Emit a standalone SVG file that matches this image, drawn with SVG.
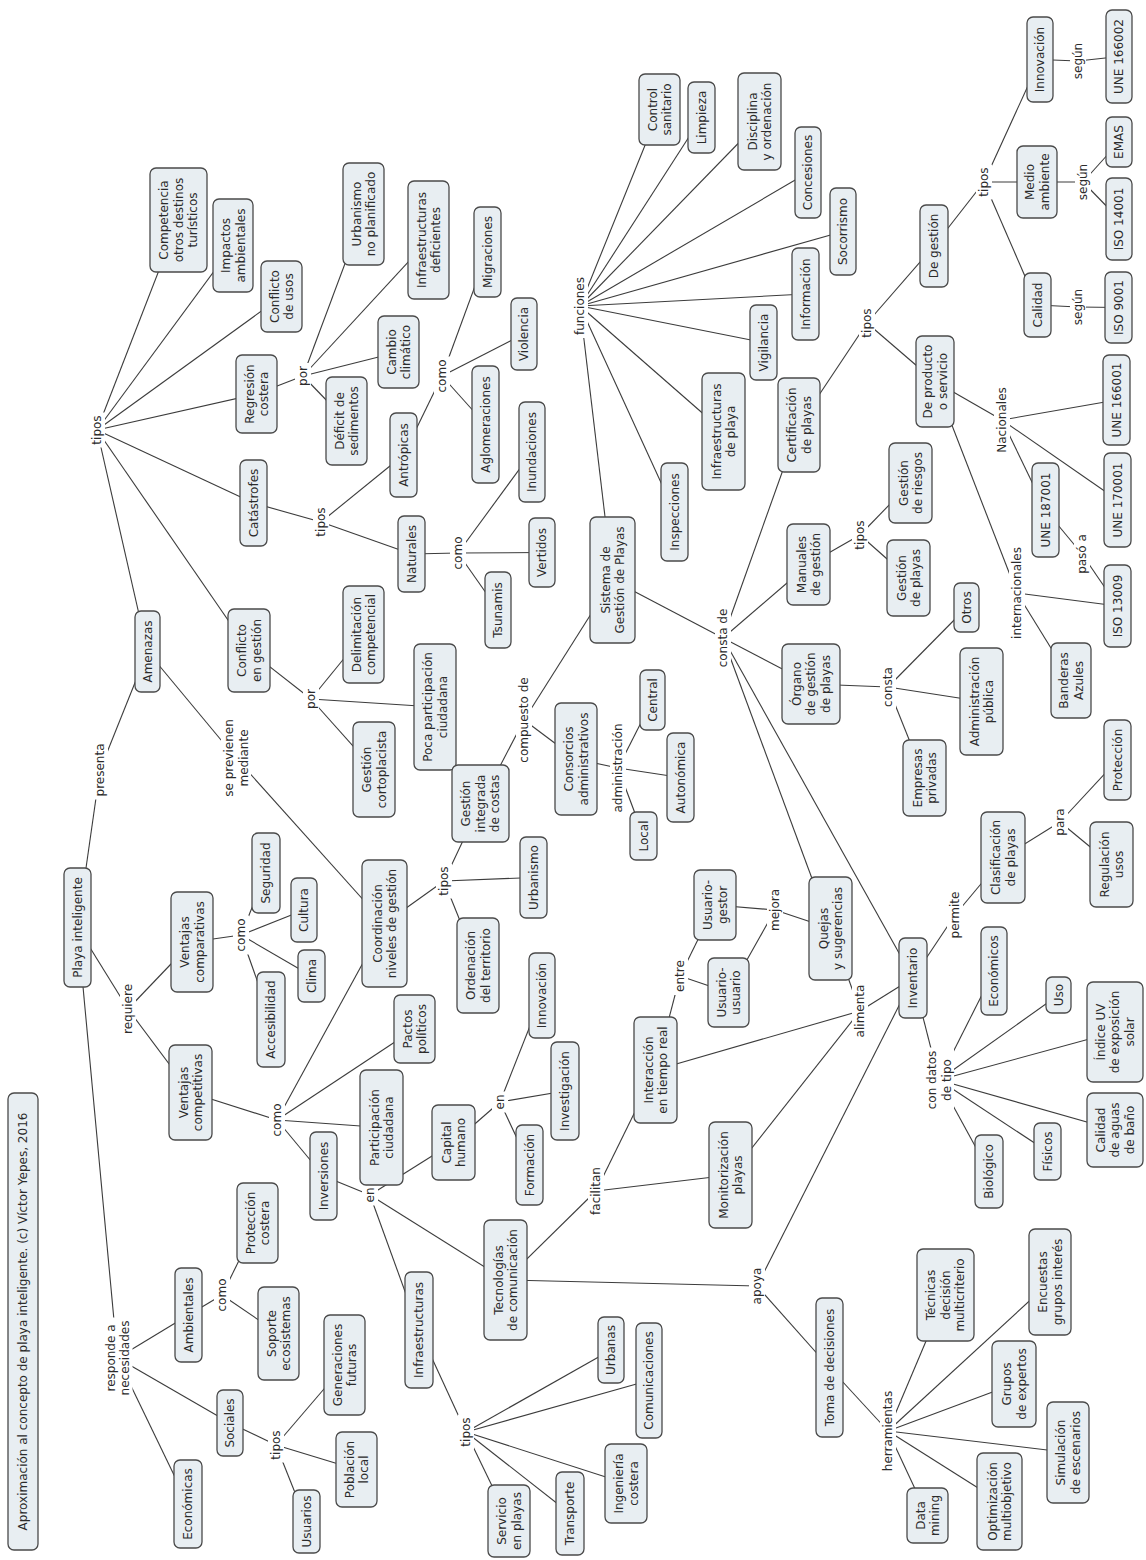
<svg xmlns="http://www.w3.org/2000/svg" width="1146" height="1560" viewBox="0 0 1146 1560">
<style>
.n rect{fill:#e8eef2;stroke:#4a4a4a;stroke-width:1.3}
.t{font-family:"DejaVu Sans",Verdana,sans-serif;font-size:12px;fill:#2b2b2b;text-anchor:middle}
#connectors line{stroke:#3c3c3c;stroke-width:1.1}
.lb rect{fill:#ffffff}
</style>
<rect x="0" y="0" width="1146" height="1560" fill="#ffffff"/>
<g id="connectors">
<line x1="77.5" y1="927.5" x2="100" y2="770"/>
<line x1="100" y1="770" x2="147.5" y2="651.5"/>
<line x1="77.5" y1="927.5" x2="128" y2="1009"/>
<line x1="128" y1="1009" x2="192" y2="942"/>
<line x1="128" y1="1009" x2="190.5" y2="1092.5"/>
<line x1="77.5" y1="927.5" x2="117.5" y2="1358"/>
<line x1="117.5" y1="1358" x2="188.5" y2="1315"/>
<line x1="117.5" y1="1358" x2="230" y2="1423"/>
<line x1="117.5" y1="1358" x2="188" y2="1504"/>
<line x1="188.5" y1="1315" x2="222" y2="1295"/>
<line x1="222" y1="1295" x2="257.5" y2="1223"/>
<line x1="222" y1="1295" x2="278.5" y2="1333.5"/>
<line x1="230" y1="1423" x2="276" y2="1445"/>
<line x1="276" y1="1445" x2="344.5" y2="1365"/>
<line x1="276" y1="1445" x2="356.5" y2="1469.5"/>
<line x1="276" y1="1445" x2="306.5" y2="1521.5"/>
<line x1="192" y1="942" x2="241" y2="935"/>
<line x1="241" y1="935" x2="266" y2="873"/>
<line x1="241" y1="935" x2="304" y2="910"/>
<line x1="241" y1="935" x2="311.5" y2="976"/>
<line x1="241" y1="935" x2="271" y2="1019.5"/>
<line x1="190.5" y1="1092.5" x2="277" y2="1120"/>
<line x1="277" y1="1120" x2="384.5" y2="923.5"/>
<line x1="277" y1="1120" x2="414.5" y2="1029"/>
<line x1="277" y1="1120" x2="381.5" y2="1127.5"/>
<line x1="277" y1="1120" x2="323.5" y2="1176"/>
<line x1="147.5" y1="651.5" x2="236" y2="758"/>
<line x1="236" y1="758" x2="384.5" y2="923.5"/>
<line x1="147.5" y1="651.5" x2="97" y2="430"/>
<line x1="97" y1="430" x2="178.5" y2="220"/>
<line x1="97" y1="430" x2="233" y2="245.5"/>
<line x1="97" y1="430" x2="281.5" y2="296.5"/>
<line x1="97" y1="430" x2="256.5" y2="394"/>
<line x1="97" y1="430" x2="253.5" y2="503"/>
<line x1="97" y1="430" x2="249" y2="650.5"/>
<line x1="256.5" y1="394" x2="303" y2="376"/>
<line x1="303" y1="376" x2="363.5" y2="214"/>
<line x1="303" y1="376" x2="428.5" y2="240"/>
<line x1="303" y1="376" x2="398.5" y2="352"/>
<line x1="303" y1="376" x2="346.5" y2="421"/>
<line x1="253.5" y1="503" x2="321" y2="522"/>
<line x1="321" y1="522" x2="403.5" y2="455"/>
<line x1="321" y1="522" x2="411.5" y2="554"/>
<line x1="403.5" y1="455" x2="442" y2="376"/>
<line x1="442" y1="376" x2="487.5" y2="252"/>
<line x1="442" y1="376" x2="524" y2="334"/>
<line x1="442" y1="376" x2="485.5" y2="424.5"/>
<line x1="411.5" y1="554" x2="458" y2="553"/>
<line x1="458" y1="553" x2="532" y2="452"/>
<line x1="458" y1="553" x2="542" y2="552.5"/>
<line x1="458" y1="553" x2="498" y2="610"/>
<line x1="249" y1="650.5" x2="311" y2="699"/>
<line x1="311" y1="699" x2="363.5" y2="634.5"/>
<line x1="311" y1="699" x2="435" y2="707"/>
<line x1="311" y1="699" x2="374" y2="769.5"/>
<line x1="384.5" y1="923.5" x2="444" y2="881"/>
<line x1="444" y1="881" x2="480.5" y2="803.5"/>
<line x1="444" y1="881" x2="533.5" y2="877.5"/>
<line x1="444" y1="881" x2="478" y2="965.5"/>
<line x1="480.5" y1="803.5" x2="524" y2="720"/>
<line x1="524" y1="720" x2="612.5" y2="580"/>
<line x1="524" y1="720" x2="576" y2="759"/>
<line x1="576" y1="759" x2="618" y2="768"/>
<line x1="618" y1="768" x2="652.5" y2="700"/>
<line x1="618" y1="768" x2="680.5" y2="777.5"/>
<line x1="618" y1="768" x2="643.5" y2="836"/>
<line x1="612.5" y1="580" x2="580" y2="306"/>
<line x1="580" y1="306" x2="659.5" y2="109.5"/>
<line x1="580" y1="306" x2="701.5" y2="117.5"/>
<line x1="580" y1="306" x2="759.5" y2="121.5"/>
<line x1="580" y1="306" x2="808" y2="172.5"/>
<line x1="580" y1="306" x2="843" y2="231.5"/>
<line x1="580" y1="306" x2="805.5" y2="294"/>
<line x1="580" y1="306" x2="763.5" y2="342.5"/>
<line x1="580" y1="306" x2="723.5" y2="431.5"/>
<line x1="580" y1="306" x2="674.5" y2="512"/>
<line x1="612.5" y1="580" x2="723" y2="638"/>
<line x1="723" y1="638" x2="799" y2="425"/>
<line x1="723" y1="638" x2="808.5" y2="564.5"/>
<line x1="723" y1="638" x2="811" y2="684"/>
<line x1="723" y1="638" x2="830.5" y2="928.5"/>
<line x1="723" y1="638" x2="913" y2="978"/>
<line x1="799" y1="425" x2="867" y2="323"/>
<line x1="867" y1="323" x2="934" y2="246"/>
<line x1="867" y1="323" x2="935" y2="381.5"/>
<line x1="934" y1="246" x2="984" y2="182"/>
<line x1="984" y1="182" x2="1040" y2="59.5"/>
<line x1="984" y1="182" x2="1037" y2="182"/>
<line x1="984" y1="182" x2="1037.5" y2="305"/>
<line x1="1040" y1="59.5" x2="1078" y2="61"/>
<line x1="1078" y1="61" x2="1119" y2="56.5"/>
<line x1="1037" y1="182" x2="1083" y2="182"/>
<line x1="1083" y1="182" x2="1119" y2="142"/>
<line x1="1083" y1="182" x2="1119" y2="219"/>
<line x1="1037.5" y1="305" x2="1078" y2="307"/>
<line x1="1078" y1="307" x2="1118.5" y2="307.5"/>
<line x1="935" y1="381.5" x2="1002" y2="420"/>
<line x1="1002" y1="420" x2="1116.5" y2="400"/>
<line x1="1002" y1="420" x2="1117.5" y2="500"/>
<line x1="1002" y1="420" x2="1045.5" y2="510"/>
<line x1="935" y1="381.5" x2="1017" y2="593"/>
<line x1="1017" y1="593" x2="1117.5" y2="606"/>
<line x1="1017" y1="593" x2="1071" y2="680.5"/>
<line x1="1045.5" y1="510" x2="1082" y2="554"/>
<line x1="1082" y1="554" x2="1117.5" y2="606"/>
<line x1="808.5" y1="564.5" x2="860" y2="535"/>
<line x1="860" y1="535" x2="910.5" y2="483"/>
<line x1="860" y1="535" x2="908.5" y2="578"/>
<line x1="811" y1="684" x2="888" y2="687"/>
<line x1="888" y1="687" x2="966.5" y2="607.5"/>
<line x1="888" y1="687" x2="981.5" y2="701.5"/>
<line x1="888" y1="687" x2="924.5" y2="778"/>
<line x1="913" y1="978" x2="955" y2="915"/>
<line x1="955" y1="915" x2="1003" y2="857.5"/>
<line x1="1003" y1="857.5" x2="1060" y2="822"/>
<line x1="1060" y1="822" x2="1111.5" y2="864.5"/>
<line x1="1060" y1="822" x2="1117.5" y2="760"/>
<line x1="913" y1="978" x2="939" y2="1080"/>
<line x1="939" y1="1080" x2="994" y2="971"/>
<line x1="939" y1="1080" x2="1058.5" y2="995"/>
<line x1="939" y1="1080" x2="1115" y2="1032"/>
<line x1="939" y1="1080" x2="1115" y2="1130"/>
<line x1="939" y1="1080" x2="1047.5" y2="1151.5"/>
<line x1="939" y1="1080" x2="989" y2="1171.5"/>
<line x1="830.5" y1="928.5" x2="775" y2="910"/>
<line x1="775" y1="910" x2="715" y2="905"/>
<line x1="775" y1="910" x2="728.5" y2="992.5"/>
<line x1="655.5" y1="1070" x2="680" y2="976"/>
<line x1="680" y1="976" x2="715" y2="905"/>
<line x1="680" y1="976" x2="728.5" y2="992.5"/>
<line x1="655.5" y1="1070" x2="860" y2="1011"/>
<line x1="730.5" y1="1175" x2="860" y2="1011"/>
<line x1="830.5" y1="928.5" x2="860" y2="1011"/>
<line x1="860" y1="1011" x2="913" y2="978"/>
<line x1="505.5" y1="1280" x2="596" y2="1191"/>
<line x1="596" y1="1191" x2="655.5" y2="1070"/>
<line x1="596" y1="1191" x2="730.5" y2="1175"/>
<line x1="505.5" y1="1280" x2="757" y2="1286"/>
<line x1="913" y1="978" x2="757" y2="1286"/>
<line x1="757" y1="1286" x2="829.5" y2="1367.5"/>
<line x1="829.5" y1="1367.5" x2="888" y2="1431"/>
<line x1="888" y1="1431" x2="945.5" y2="1295"/>
<line x1="888" y1="1431" x2="1050" y2="1282"/>
<line x1="888" y1="1431" x2="1014" y2="1384"/>
<line x1="888" y1="1431" x2="1068" y2="1452.5"/>
<line x1="888" y1="1431" x2="999.5" y2="1501.5"/>
<line x1="888" y1="1431" x2="927.5" y2="1515.5"/>
<line x1="323.5" y1="1176" x2="370" y2="1195"/>
<line x1="370" y1="1195" x2="453.5" y2="1142.5"/>
<line x1="370" y1="1195" x2="505.5" y2="1280"/>
<line x1="370" y1="1195" x2="419" y2="1330"/>
<line x1="453.5" y1="1142.5" x2="500" y2="1102"/>
<line x1="500" y1="1102" x2="542" y2="995.5"/>
<line x1="500" y1="1102" x2="565" y2="1091"/>
<line x1="500" y1="1102" x2="529.5" y2="1165"/>
<line x1="419" y1="1330" x2="466" y2="1432"/>
<line x1="466" y1="1432" x2="611" y2="1350"/>
<line x1="466" y1="1432" x2="649" y2="1380.5"/>
<line x1="466" y1="1432" x2="626" y2="1483.5"/>
<line x1="466" y1="1432" x2="570" y2="1513.5"/>
<line x1="466" y1="1432" x2="509" y2="1521"/>
</g>
<g id="label-backgrounds" class="lb">
<rect x="92" y="740.5" width="16" height="59"/>
<rect x="120" y="980.5" width="16" height="57"/>
<rect x="102.5" y="1317.5" width="30" height="81"/>
<rect x="214" y="1275.5" width="16" height="39"/>
<rect x="268" y="1427.5" width="16" height="35"/>
<rect x="233" y="915.5" width="16" height="39"/>
<rect x="269" y="1100.5" width="16" height="39"/>
<rect x="221" y="716" width="30" height="84"/>
<rect x="89" y="412.5" width="16" height="35"/>
<rect x="295" y="363" width="16" height="26"/>
<rect x="313" y="504.5" width="16" height="35"/>
<rect x="434" y="356.5" width="16" height="39"/>
<rect x="450" y="533.5" width="16" height="39"/>
<rect x="303" y="686" width="16" height="26"/>
<rect x="516" y="674.5" width="16" height="91"/>
<rect x="610" y="720.5" width="16" height="95"/>
<rect x="572" y="274" width="16" height="64"/>
<rect x="715" y="605.5" width="16" height="65"/>
<rect x="436" y="863.5" width="16" height="35"/>
<rect x="362" y="1184.5" width="16" height="21"/>
<rect x="492" y="1091.5" width="16" height="21"/>
<rect x="672" y="957" width="16" height="38"/>
<rect x="767" y="886" width="16" height="48"/>
<rect x="852" y="981.5" width="16" height="59"/>
<rect x="588" y="1164" width="16" height="54"/>
<rect x="749" y="1264.5" width="16" height="43"/>
<rect x="458" y="1414.5" width="16" height="35"/>
<rect x="880" y="1387.5" width="16" height="87"/>
<rect x="947" y="888" width="16" height="54"/>
<rect x="1052" y="805.5" width="16" height="33"/>
<rect x="924" y="1047.5" width="30" height="65"/>
<rect x="859" y="305.5" width="16" height="35"/>
<rect x="976" y="164.5" width="16" height="35"/>
<rect x="1070" y="40" width="16" height="42"/>
<rect x="1075" y="161" width="16" height="42"/>
<rect x="1070" y="286" width="16" height="42"/>
<rect x="994" y="384" width="16" height="72"/>
<rect x="1009" y="544" width="16" height="98"/>
<rect x="1074" y="531" width="16" height="46"/>
<rect x="852" y="517.5" width="16" height="35"/>
<rect x="880" y="664" width="16" height="46"/>
</g>
<g id="n_title" class="n"><rect x="8" y="1093" width="30" height="457" rx="6"/><text class="t" transform="translate(23 1321.5) rotate(-90)"><tspan x="0" y="4.3">Aproximación al concepto de playa inteligente. (c) Víctor Yepes, 2016</tspan></text></g>
<g id="n_playa" class="n"><rect x="64" y="868" width="27" height="119" rx="6"/><text class="t" transform="translate(77.5 927.5) rotate(-90)"><tspan x="0" y="4.3">Playa inteligente</tspan></text></g>
<g id="n_amenazas" class="n"><rect x="135" y="611" width="25" height="81" rx="6"/><text class="t" transform="translate(147.5 651.5) rotate(-90)"><tspan x="0" y="4.3">Amenazas</tspan></text></g>
<g id="n_competencia" class="n"><rect x="150" y="168" width="57" height="104" rx="6"/><text class="t" transform="translate(178.5 220) rotate(-90)"><tspan x="0" y="-10.2">Competencia</tspan><tspan x="0" y="4.3">otros destinos</tspan><tspan x="0" y="18.8">turísticos</tspan></text></g>
<g id="n_impactos" class="n"><rect x="213" y="199" width="40" height="93" rx="6"/><text class="t" transform="translate(233 245.5) rotate(-90)"><tspan x="0" y="-3">Impactos</tspan><tspan x="0" y="11.5">ambientales</tspan></text></g>
<g id="n_conflicto_usos" class="n"><rect x="261" y="261" width="41" height="71" rx="6"/><text class="t" transform="translate(281.5 296.5) rotate(-90)"><tspan x="0" y="-3">Conflicto</tspan><tspan x="0" y="11.5">de usos</tspan></text></g>
<g id="n_regresion" class="n"><rect x="236" y="355" width="41" height="78" rx="6"/><text class="t" transform="translate(256.5 394) rotate(-90)"><tspan x="0" y="-3">Regresión</tspan><tspan x="0" y="11.5">costera</tspan></text></g>
<g id="n_urbanismo_np" class="n"><rect x="343" y="163" width="41" height="102" rx="6"/><text class="t" transform="translate(363.5 214) rotate(-90)"><tspan x="0" y="-3">Urbanismo</tspan><tspan x="0" y="11.5">no planificado</tspan></text></g>
<g id="n_infra_def" class="n"><rect x="408" y="181" width="41" height="118" rx="6"/><text class="t" transform="translate(428.5 240) rotate(-90)"><tspan x="0" y="-3">Infraestructuras</tspan><tspan x="0" y="11.5">deficientes</tspan></text></g>
<g id="n_cambio" class="n"><rect x="378" y="316" width="41" height="72" rx="6"/><text class="t" transform="translate(398.5 352) rotate(-90)"><tspan x="0" y="-3">Cambio</tspan><tspan x="0" y="11.5">climático</tspan></text></g>
<g id="n_deficit" class="n"><rect x="326" y="377" width="41" height="88" rx="6"/><text class="t" transform="translate(346.5 421) rotate(-90)"><tspan x="0" y="-3">Déficit de</tspan><tspan x="0" y="11.5">sedimentos</tspan></text></g>
<g id="n_catastrofes" class="n"><rect x="240" y="460" width="27" height="86" rx="6"/><text class="t" transform="translate(253.5 503) rotate(-90)"><tspan x="0" y="4.3">Catástrofes</tspan></text></g>
<g id="n_antropicas" class="n"><rect x="390" y="413" width="27" height="84" rx="6"/><text class="t" transform="translate(403.5 455) rotate(-90)"><tspan x="0" y="4.3">Antrópicas</tspan></text></g>
<g id="n_migraciones" class="n"><rect x="474" y="207" width="27" height="90" rx="6"/><text class="t" transform="translate(487.5 252) rotate(-90)"><tspan x="0" y="4.3">Migraciones</tspan></text></g>
<g id="n_violencia" class="n"><rect x="511" y="298" width="26" height="72" rx="6"/><text class="t" transform="translate(524 334) rotate(-90)"><tspan x="0" y="4.3">Violencia</tspan></text></g>
<g id="n_aglomeraciones" class="n"><rect x="472" y="366" width="27" height="117" rx="6"/><text class="t" transform="translate(485.5 424.5) rotate(-90)"><tspan x="0" y="4.3">Aglomeraciones</tspan></text></g>
<g id="n_naturales" class="n"><rect x="398" y="516" width="27" height="76" rx="6"/><text class="t" transform="translate(411.5 554) rotate(-90)"><tspan x="0" y="4.3">Naturales</tspan></text></g>
<g id="n_inundaciones" class="n"><rect x="519" y="402" width="26" height="100" rx="6"/><text class="t" transform="translate(532 452) rotate(-90)"><tspan x="0" y="4.3">Inundaciones</tspan></text></g>
<g id="n_vertidos" class="n"><rect x="529" y="518" width="26" height="69" rx="6"/><text class="t" transform="translate(542 552.5) rotate(-90)"><tspan x="0" y="4.3">Vertidos</tspan></text></g>
<g id="n_tsunamis" class="n"><rect x="485" y="572" width="26" height="76" rx="6"/><text class="t" transform="translate(498 610) rotate(-90)"><tspan x="0" y="4.3">Tsunamis</tspan></text></g>
<g id="n_conflicto_gestion" class="n"><rect x="228" y="609" width="42" height="83" rx="6"/><text class="t" transform="translate(249 650.5) rotate(-90)"><tspan x="0" y="-3">Conflicto</tspan><tspan x="0" y="11.5">en gestión</tspan></text></g>
<g id="n_delimitacion" class="n"><rect x="343" y="586" width="41" height="97" rx="6"/><text class="t" transform="translate(363.5 634.5) rotate(-90)"><tspan x="0" y="-3">Delimitación</tspan><tspan x="0" y="11.5">competencial</tspan></text></g>
<g id="n_poca" class="n"><rect x="414" y="644" width="42" height="126" rx="6"/><text class="t" transform="translate(435 707) rotate(-90)"><tspan x="0" y="-3">Poca participación</tspan><tspan x="0" y="11.5">ciudadana</tspan></text></g>
<g id="n_cortoplacista" class="n"><rect x="353" y="722" width="42" height="95" rx="6"/><text class="t" transform="translate(374 769.5) rotate(-90)"><tspan x="0" y="-3">Gestión</tspan><tspan x="0" y="11.5">cortoplacista</tspan></text></g>
<g id="n_sistema" class="n"><rect x="590" y="517" width="45" height="126" rx="6"/><text class="t" transform="translate(612.5 580) rotate(-90)"><tspan x="0" y="-3">Sistema de</tspan><tspan x="0" y="11.5">Gestión de Playas</tspan></text></g>
<g id="n_control" class="n"><rect x="639" y="74" width="41" height="71" rx="6"/><text class="t" transform="translate(659.5 109.5) rotate(-90)"><tspan x="0" y="-3">Control</tspan><tspan x="0" y="11.5">sanitario</tspan></text></g>
<g id="n_limpieza" class="n"><rect x="688" y="82" width="27" height="71" rx="6"/><text class="t" transform="translate(701.5 117.5) rotate(-90)"><tspan x="0" y="4.3">Limpieza</tspan></text></g>
<g id="n_disciplina" class="n"><rect x="738" y="73" width="43" height="97" rx="6"/><text class="t" transform="translate(759.5 121.5) rotate(-90)"><tspan x="0" y="-3">Disciplina</tspan><tspan x="0" y="11.5">y ordenación</tspan></text></g>
<g id="n_concesiones" class="n"><rect x="795" y="127" width="26" height="91" rx="6"/><text class="t" transform="translate(808 172.5) rotate(-90)"><tspan x="0" y="4.3">Concesiones</tspan></text></g>
<g id="n_socorrismo" class="n"><rect x="830" y="188" width="26" height="87" rx="6"/><text class="t" transform="translate(843 231.5) rotate(-90)"><tspan x="0" y="4.3">Socorrismo</tspan></text></g>
<g id="n_informacion" class="n"><rect x="792" y="248" width="27" height="92" rx="6"/><text class="t" transform="translate(805.5 294) rotate(-90)"><tspan x="0" y="4.3">Información</tspan></text></g>
<g id="n_vigilancia" class="n"><rect x="750" y="305" width="27" height="75" rx="6"/><text class="t" transform="translate(763.5 342.5) rotate(-90)"><tspan x="0" y="4.3">Vigilancia</tspan></text></g>
<g id="n_infra_playa" class="n"><rect x="702" y="373" width="43" height="117" rx="6"/><text class="t" transform="translate(723.5 431.5) rotate(-90)"><tspan x="0" y="-3">Infraestructuras</tspan><tspan x="0" y="11.5">de playa</tspan></text></g>
<g id="n_inspecciones" class="n"><rect x="661" y="463" width="27" height="98" rx="6"/><text class="t" transform="translate(674.5 512) rotate(-90)"><tspan x="0" y="4.3">Inspecciones</tspan></text></g>
<g id="n_certificacion" class="n"><rect x="778" y="378" width="42" height="94" rx="6"/><text class="t" transform="translate(799 425) rotate(-90)"><tspan x="0" y="-3">Certificación</tspan><tspan x="0" y="11.5">de playas</tspan></text></g>
<g id="n_de_gestion" class="n"><rect x="920" y="205" width="28" height="82" rx="6"/><text class="t" transform="translate(934 246) rotate(-90)"><tspan x="0" y="4.3">De gestión</tspan></text></g>
<g id="n_innovacion_c" class="n"><rect x="1027" y="17" width="26" height="85" rx="6"/><text class="t" transform="translate(1040 59.5) rotate(-90)"><tspan x="0" y="4.3">Innovación</tspan></text></g>
<g id="n_une166002" class="n"><rect x="1106" y="10" width="26" height="93" rx="6"/><text class="t" transform="translate(1119 56.5) rotate(-90)"><tspan x="0" y="4.3">UNE 166002</tspan></text></g>
<g id="n_medio" class="n"><rect x="1017" y="146" width="40" height="72" rx="6"/><text class="t" transform="translate(1037 182) rotate(-90)"><tspan x="0" y="-3">Medio</tspan><tspan x="0" y="11.5">ambiente</tspan></text></g>
<g id="n_emas" class="n"><rect x="1106" y="117" width="26" height="50" rx="6"/><text class="t" transform="translate(1119 142) rotate(-90)"><tspan x="0" y="4.3">EMAS</tspan></text></g>
<g id="n_iso14001" class="n"><rect x="1106" y="178" width="26" height="82" rx="6"/><text class="t" transform="translate(1119 219) rotate(-90)"><tspan x="0" y="4.3">ISO 14001</tspan></text></g>
<g id="n_calidad" class="n"><rect x="1024" y="273" width="27" height="64" rx="6"/><text class="t" transform="translate(1037.5 305) rotate(-90)"><tspan x="0" y="4.3">Calidad</tspan></text></g>
<g id="n_iso9001" class="n"><rect x="1105" y="272" width="27" height="71" rx="6"/><text class="t" transform="translate(1118.5 307.5) rotate(-90)"><tspan x="0" y="4.3">ISO 9001</tspan></text></g>
<g id="n_de_producto" class="n"><rect x="916" y="336" width="38" height="91" rx="6"/><text class="t" transform="translate(935 381.5) rotate(-90)"><tspan x="0" y="-3">De producto</tspan><tspan x="0" y="11.5">o servicio</tspan></text></g>
<g id="n_une166001" class="n"><rect x="1103" y="355" width="27" height="90" rx="6"/><text class="t" transform="translate(1116.5 400) rotate(-90)"><tspan x="0" y="4.3">UNE 166001</tspan></text></g>
<g id="n_une170001" class="n"><rect x="1104" y="453" width="27" height="94" rx="6"/><text class="t" transform="translate(1117.5 500) rotate(-90)"><tspan x="0" y="4.3">UNE 170001</tspan></text></g>
<g id="n_une187001" class="n"><rect x="1032" y="463" width="27" height="94" rx="6"/><text class="t" transform="translate(1045.5 510) rotate(-90)"><tspan x="0" y="4.3">UNE 187001</tspan></text></g>
<g id="n_iso13009" class="n"><rect x="1104" y="565" width="27" height="82" rx="6"/><text class="t" transform="translate(1117.5 606) rotate(-90)"><tspan x="0" y="4.3">ISO 13009</tspan></text></g>
<g id="n_banderas" class="n"><rect x="1051" y="643" width="40" height="75" rx="6"/><text class="t" transform="translate(1071 680.5) rotate(-90)"><tspan x="0" y="-3">Banderas</tspan><tspan x="0" y="11.5">Azules</tspan></text></g>
<g id="n_manuales" class="n"><rect x="787" y="524" width="43" height="81" rx="6"/><text class="t" transform="translate(808.5 564.5) rotate(-90)"><tspan x="0" y="-3">Manuales</tspan><tspan x="0" y="11.5">de gestión</tspan></text></g>
<g id="n_riesgos" class="n"><rect x="889" y="443" width="43" height="80" rx="6"/><text class="t" transform="translate(910.5 483) rotate(-90)"><tspan x="0" y="-3">Gestión</tspan><tspan x="0" y="11.5">de riesgos</tspan></text></g>
<g id="n_gplayas" class="n"><rect x="887" y="540" width="43" height="76" rx="6"/><text class="t" transform="translate(908.5 578) rotate(-90)"><tspan x="0" y="-3">Gestión</tspan><tspan x="0" y="11.5">de playas</tspan></text></g>
<g id="n_organo" class="n"><rect x="782" y="644" width="58" height="80" rx="6"/><text class="t" transform="translate(811 684) rotate(-90)"><tspan x="0" y="-10.2">Órgano</tspan><tspan x="0" y="4.3">de gestión</tspan><tspan x="0" y="18.8">de playas</tspan></text></g>
<g id="n_otros" class="n"><rect x="954" y="583" width="25" height="49" rx="6"/><text class="t" transform="translate(966.5 607.5) rotate(-90)"><tspan x="0" y="4.3">Otros</tspan></text></g>
<g id="n_admin_pub" class="n"><rect x="960" y="648" width="43" height="107" rx="6"/><text class="t" transform="translate(981.5 701.5) rotate(-90)"><tspan x="0" y="-3">Administración</tspan><tspan x="0" y="11.5">pública</tspan></text></g>
<g id="n_empresas" class="n"><rect x="903" y="740" width="43" height="76" rx="6"/><text class="t" transform="translate(924.5 778) rotate(-90)"><tspan x="0" y="-3">Empresas</tspan><tspan x="0" y="11.5">privadas</tspan></text></g>
<g id="n_proteccion" class="n"><rect x="1104" y="720" width="27" height="80" rx="6"/><text class="t" transform="translate(1117.5 760) rotate(-90)"><tspan x="0" y="4.3">Protección</tspan></text></g>
<g id="n_consorcios" class="n"><rect x="555" y="703" width="42" height="112" rx="6"/><text class="t" transform="translate(576 759) rotate(-90)"><tspan x="0" y="-3">Consorcios</tspan><tspan x="0" y="11.5">administrativos</tspan></text></g>
<g id="n_central" class="n"><rect x="640" y="670" width="25" height="60" rx="6"/><text class="t" transform="translate(652.5 700) rotate(-90)"><tspan x="0" y="4.3">Central</tspan></text></g>
<g id="n_autonomica" class="n"><rect x="667" y="733" width="27" height="89" rx="6"/><text class="t" transform="translate(680.5 777.5) rotate(-90)"><tspan x="0" y="4.3">Autonómica</tspan></text></g>
<g id="n_local" class="n"><rect x="630" y="812" width="27" height="48" rx="6"/><text class="t" transform="translate(643.5 836) rotate(-90)"><tspan x="0" y="4.3">Local</tspan></text></g>
<g id="n_gestion_integrada" class="n"><rect x="452" y="765" width="57" height="77" rx="6"/><text class="t" transform="translate(480.5 803.5) rotate(-90)"><tspan x="0" y="-10.2">Gestión</tspan><tspan x="0" y="4.3">integrada</tspan><tspan x="0" y="18.8">de costas</tspan></text></g>
<g id="n_vent_comp" class="n"><rect x="171" y="892" width="42" height="100" rx="6"/><text class="t" transform="translate(192 942) rotate(-90)"><tspan x="0" y="-3">Ventajas</tspan><tspan x="0" y="11.5">comparativas</tspan></text></g>
<g id="n_seguridad" class="n"><rect x="252" y="833" width="28" height="80" rx="6"/><text class="t" transform="translate(266 873) rotate(-90)"><tspan x="0" y="4.3">Seguridad</tspan></text></g>
<g id="n_cultura" class="n"><rect x="291" y="878" width="26" height="64" rx="6"/><text class="t" transform="translate(304 910) rotate(-90)"><tspan x="0" y="4.3">Cultura</tspan></text></g>
<g id="n_clima" class="n"><rect x="298" y="950" width="27" height="52" rx="6"/><text class="t" transform="translate(311.5 976) rotate(-90)"><tspan x="0" y="4.3">Clima</tspan></text></g>
<g id="n_accesibilidad" class="n"><rect x="257" y="972" width="28" height="95" rx="6"/><text class="t" transform="translate(271 1019.5) rotate(-90)"><tspan x="0" y="4.3">Accesibilidad</tspan></text></g>
<g id="n_coordinacion" class="n"><rect x="362" y="860" width="45" height="127" rx="6"/><text class="t" transform="translate(384.5 923.5) rotate(-90)"><tspan x="0" y="-3">Coordinación</tspan><tspan x="0" y="11.5">niveles de gestión</tspan></text></g>
<g id="n_vent_compet" class="n"><rect x="169" y="1045" width="43" height="95" rx="6"/><text class="t" transform="translate(190.5 1092.5) rotate(-90)"><tspan x="0" y="-3">Ventajas</tspan><tspan x="0" y="11.5">competitivas</tspan></text></g>
<g id="n_participacion" class="n"><rect x="360" y="1070" width="43" height="115" rx="6"/><text class="t" transform="translate(381.5 1127.5) rotate(-90)"><tspan x="0" y="-3">Participación</tspan><tspan x="0" y="11.5">ciudadana</tspan></text></g>
<g id="n_pactos" class="n"><rect x="394" y="995" width="41" height="68" rx="6"/><text class="t" transform="translate(414.5 1029) rotate(-90)"><tspan x="0" y="-3">Pactos</tspan><tspan x="0" y="11.5">políticos</tspan></text></g>
<g id="n_inversiones" class="n"><rect x="310" y="1132" width="27" height="88" rx="6"/><text class="t" transform="translate(323.5 1176) rotate(-90)"><tspan x="0" y="4.3">Inversiones</tspan></text></g>
<g id="n_urbanismo" class="n"><rect x="520" y="837" width="27" height="81" rx="6"/><text class="t" transform="translate(533.5 877.5) rotate(-90)"><tspan x="0" y="4.3">Urbanismo</tspan></text></g>
<g id="n_ordenacion" class="n"><rect x="457" y="918" width="42" height="95" rx="6"/><text class="t" transform="translate(478 965.5) rotate(-90)"><tspan x="0" y="-3">Ordenación</tspan><tspan x="0" y="11.5">del territorio</tspan></text></g>
<g id="n_innovacion_k" class="n"><rect x="529" y="953" width="26" height="85" rx="6"/><text class="t" transform="translate(542 995.5) rotate(-90)"><tspan x="0" y="4.3">Innovación</tspan></text></g>
<g id="n_investigacion" class="n"><rect x="551" y="1042" width="28" height="98" rx="6"/><text class="t" transform="translate(565 1091) rotate(-90)"><tspan x="0" y="4.3">Investigación</tspan></text></g>
<g id="n_capital" class="n"><rect x="432" y="1105" width="43" height="75" rx="6"/><text class="t" transform="translate(453.5 1142.5) rotate(-90)"><tspan x="0" y="-3">Capital</tspan><tspan x="0" y="11.5">humano</tspan></text></g>
<g id="n_formacion" class="n"><rect x="516" y="1125" width="27" height="80" rx="6"/><text class="t" transform="translate(529.5 1165) rotate(-90)"><tspan x="0" y="4.3">Formación</tspan></text></g>
<g id="n_us_gestor" class="n"><rect x="694" y="870" width="42" height="70" rx="6"/><text class="t" transform="translate(715 905) rotate(-90)"><tspan x="0" y="-3">Usuario-</tspan><tspan x="0" y="11.5">gestor</tspan></text></g>
<g id="n_us_usuario" class="n"><rect x="708" y="958" width="41" height="69" rx="6"/><text class="t" transform="translate(728.5 992.5) rotate(-90)"><tspan x="0" y="-3">Usuario-</tspan><tspan x="0" y="11.5">usuario</tspan></text></g>
<g id="n_interaccion" class="n"><rect x="634" y="1017" width="43" height="106" rx="6"/><text class="t" transform="translate(655.5 1070) rotate(-90)"><tspan x="0" y="-3">Interacción</tspan><tspan x="0" y="11.5">en tiempo real</tspan></text></g>
<g id="n_monitorizacion" class="n"><rect x="709" y="1122" width="43" height="106" rx="6"/><text class="t" transform="translate(730.5 1175) rotate(-90)"><tspan x="0" y="-3">Monitorización</tspan><tspan x="0" y="11.5">playas</tspan></text></g>
<g id="n_quejas" class="n"><rect x="809" y="877" width="43" height="103" rx="6"/><text class="t" transform="translate(830.5 928.5) rotate(-90)"><tspan x="0" y="-3">Quejas</tspan><tspan x="0" y="11.5">y sugerencias</tspan></text></g>
<g id="n_inventario" class="n"><rect x="899" y="938" width="28" height="80" rx="6"/><text class="t" transform="translate(913 978) rotate(-90)"><tspan x="0" y="4.3">Inventario</tspan></text></g>
<g id="n_clasificacion" class="n"><rect x="981" y="812" width="44" height="91" rx="6"/><text class="t" transform="translate(1003 857.5) rotate(-90)"><tspan x="0" y="-3">Clasificación</tspan><tspan x="0" y="11.5">de playas</tspan></text></g>
<g id="n_regulacion" class="n"><rect x="1090" y="822" width="43" height="85" rx="6"/><text class="t" transform="translate(1111.5 864.5) rotate(-90)"><tspan x="0" y="-3">Regulación</tspan><tspan x="0" y="11.5">usos</tspan></text></g>
<g id="n_economicos" class="n"><rect x="981" y="927" width="26" height="88" rx="6"/><text class="t" transform="translate(994 971) rotate(-90)"><tspan x="0" y="4.3">Económicos</tspan></text></g>
<g id="n_uso" class="n"><rect x="1046" y="977" width="25" height="36" rx="6"/><text class="t" transform="translate(1058.5 995) rotate(-90)"><tspan x="0" y="4.3">Uso</tspan></text></g>
<g id="n_indice_uv" class="n"><rect x="1087" y="982" width="56" height="100" rx="6"/><text class="t" transform="translate(1115 1032) rotate(-90)"><tspan x="0" y="-10.2">Índice UV</tspan><tspan x="0" y="4.3">de exposición</tspan><tspan x="0" y="18.8">solar</tspan></text></g>
<g id="n_calidad_aguas" class="n"><rect x="1087" y="1093" width="56" height="74" rx="6"/><text class="t" transform="translate(1115 1130) rotate(-90)"><tspan x="0" y="-10.2">Calidad</tspan><tspan x="0" y="4.3">de aguas</tspan><tspan x="0" y="18.8">de baño</tspan></text></g>
<g id="n_fisicos" class="n"><rect x="1034" y="1123" width="27" height="57" rx="6"/><text class="t" transform="translate(1047.5 1151.5) rotate(-90)"><tspan x="0" y="4.3">Físicos</tspan></text></g>
<g id="n_biologico" class="n"><rect x="975" y="1135" width="28" height="73" rx="6"/><text class="t" transform="translate(989 1171.5) rotate(-90)"><tspan x="0" y="4.3">Biológico</tspan></text></g>
<g id="n_ambientales" class="n"><rect x="175" y="1268" width="27" height="94" rx="6"/><text class="t" transform="translate(188.5 1315) rotate(-90)"><tspan x="0" y="4.3">Ambientales</tspan></text></g>
<g id="n_proteccion_costera" class="n"><rect x="237" y="1183" width="41" height="80" rx="6"/><text class="t" transform="translate(257.5 1223) rotate(-90)"><tspan x="0" y="-3">Protección</tspan><tspan x="0" y="11.5">costera</tspan></text></g>
<g id="n_soporte" class="n"><rect x="258" y="1287" width="41" height="93" rx="6"/><text class="t" transform="translate(278.5 1333.5) rotate(-90)"><tspan x="0" y="-3">Soporte</tspan><tspan x="0" y="11.5">ecosistemas</tspan></text></g>
<g id="n_sociales" class="n"><rect x="217" y="1390" width="26" height="66" rx="6"/><text class="t" transform="translate(230 1423) rotate(-90)"><tspan x="0" y="4.3">Sociales</tspan></text></g>
<g id="n_economicas" class="n"><rect x="174" y="1460" width="28" height="88" rx="6"/><text class="t" transform="translate(188 1504) rotate(-90)"><tspan x="0" y="4.3">Económicas</tspan></text></g>
<g id="n_generaciones" class="n"><rect x="324" y="1315" width="41" height="100" rx="6"/><text class="t" transform="translate(344.5 1365) rotate(-90)"><tspan x="0" y="-3">Generaciones</tspan><tspan x="0" y="11.5">futuras</tspan></text></g>
<g id="n_poblacion" class="n"><rect x="336" y="1432" width="41" height="75" rx="6"/><text class="t" transform="translate(356.5 1469.5) rotate(-90)"><tspan x="0" y="-3">Población</tspan><tspan x="0" y="11.5">local</tspan></text></g>
<g id="n_usuarios" class="n"><rect x="293" y="1490" width="27" height="63" rx="6"/><text class="t" transform="translate(306.5 1521.5) rotate(-90)"><tspan x="0" y="4.3">Usuarios</tspan></text></g>
<g id="n_tecnologias" class="n"><rect x="484" y="1220" width="43" height="120" rx="6"/><text class="t" transform="translate(505.5 1280) rotate(-90)"><tspan x="0" y="-3">Tecnologías</tspan><tspan x="0" y="11.5">de comunicación</tspan></text></g>
<g id="n_infraestructuras" class="n"><rect x="405" y="1272" width="28" height="116" rx="6"/><text class="t" transform="translate(419 1330) rotate(-90)"><tspan x="0" y="4.3">Infraestructuras</tspan></text></g>
<g id="n_urbanas" class="n"><rect x="598" y="1317" width="26" height="66" rx="6"/><text class="t" transform="translate(611 1350) rotate(-90)"><tspan x="0" y="4.3">Urbanas</tspan></text></g>
<g id="n_comunicaciones" class="n"><rect x="636" y="1323" width="26" height="115" rx="6"/><text class="t" transform="translate(649 1380.5) rotate(-90)"><tspan x="0" y="4.3">Comunicaciones</tspan></text></g>
<g id="n_ingenieria" class="n"><rect x="605" y="1444" width="42" height="79" rx="6"/><text class="t" transform="translate(626 1483.5) rotate(-90)"><tspan x="0" y="-3">Ingeniería</tspan><tspan x="0" y="11.5">costera</tspan></text></g>
<g id="n_transporte" class="n"><rect x="556" y="1472" width="28" height="83" rx="6"/><text class="t" transform="translate(570 1513.5) rotate(-90)"><tspan x="0" y="4.3">Transporte</tspan></text></g>
<g id="n_servicio" class="n"><rect x="488" y="1485" width="42" height="72" rx="6"/><text class="t" transform="translate(509 1521) rotate(-90)"><tspan x="0" y="-3">Servicio</tspan><tspan x="0" y="11.5">en playas</tspan></text></g>
<g id="n_toma" class="n"><rect x="816" y="1298" width="27" height="139" rx="6"/><text class="t" transform="translate(829.5 1367.5) rotate(-90)"><tspan x="0" y="4.3">Toma de decisiones</tspan></text></g>
<g id="n_tecnicas" class="n"><rect x="917" y="1249" width="57" height="92" rx="6"/><text class="t" transform="translate(945.5 1295) rotate(-90)"><tspan x="0" y="-10.2">Técnicas</tspan><tspan x="0" y="4.3">decisión</tspan><tspan x="0" y="18.8">multicriterio</tspan></text></g>
<g id="n_encuestas" class="n"><rect x="1029" y="1229" width="42" height="106" rx="6"/><text class="t" transform="translate(1050 1282) rotate(-90)"><tspan x="0" y="-3">Encuestas</tspan><tspan x="0" y="11.5">grupos interés</tspan></text></g>
<g id="n_grupos" class="n"><rect x="992" y="1341" width="44" height="86" rx="6"/><text class="t" transform="translate(1014 1384) rotate(-90)"><tspan x="0" y="-3">Grupos</tspan><tspan x="0" y="11.5">de expertos</tspan></text></g>
<g id="n_simulacion" class="n"><rect x="1047" y="1402" width="42" height="101" rx="6"/><text class="t" transform="translate(1068 1452.5) rotate(-90)"><tspan x="0" y="-3">Simulación</tspan><tspan x="0" y="11.5">de escenarios</tspan></text></g>
<g id="n_optimizacion" class="n"><rect x="977" y="1453" width="45" height="97" rx="6"/><text class="t" transform="translate(999.5 1501.5) rotate(-90)"><tspan x="0" y="-3">Optimización</tspan><tspan x="0" y="11.5">multiobjetivo</tspan></text></g>
<g id="n_data_mining" class="n"><rect x="907" y="1488" width="41" height="55" rx="6"/><text class="t" transform="translate(927.5 1515.5) rotate(-90)"><tspan x="0" y="-3">Data</tspan><tspan x="0" y="11.5">mining</tspan></text></g>
<g id="link-labels">
<text class="t" transform="translate(100 770) rotate(-90)"><tspan x="0" y="4.3">presenta</tspan></text>
<text class="t" transform="translate(128 1009) rotate(-90)"><tspan x="0" y="4.3">requiere</tspan></text>
<text class="t" transform="translate(117.5 1358) rotate(-90)"><tspan x="0" y="-3">responde a</tspan><tspan x="0" y="11.5">necesidades</tspan></text>
<text class="t" transform="translate(222 1295) rotate(-90)"><tspan x="0" y="4.3">como</tspan></text>
<text class="t" transform="translate(276 1445) rotate(-90)"><tspan x="0" y="4.3">tipos</tspan></text>
<text class="t" transform="translate(241 935) rotate(-90)"><tspan x="0" y="4.3">como</tspan></text>
<text class="t" transform="translate(277 1120) rotate(-90)"><tspan x="0" y="4.3">como</tspan></text>
<text class="t" transform="translate(236 758) rotate(-90)"><tspan x="0" y="-3">se previenen</tspan><tspan x="0" y="11.5">mediante</tspan></text>
<text class="t" transform="translate(97 430) rotate(-90)"><tspan x="0" y="4.3">tipos</tspan></text>
<text class="t" transform="translate(303 376) rotate(-90)"><tspan x="0" y="4.3">por</tspan></text>
<text class="t" transform="translate(321 522) rotate(-90)"><tspan x="0" y="4.3">tipos</tspan></text>
<text class="t" transform="translate(442 376) rotate(-90)"><tspan x="0" y="4.3">como</tspan></text>
<text class="t" transform="translate(458 553) rotate(-90)"><tspan x="0" y="4.3">como</tspan></text>
<text class="t" transform="translate(311 699) rotate(-90)"><tspan x="0" y="4.3">por</tspan></text>
<text class="t" transform="translate(524 720) rotate(-90)"><tspan x="0" y="4.3">compuesto de</tspan></text>
<text class="t" transform="translate(618 768) rotate(-90)"><tspan x="0" y="4.3">administración</tspan></text>
<text class="t" transform="translate(580 306) rotate(-90)"><tspan x="0" y="4.3">funciones</tspan></text>
<text class="t" transform="translate(723 638) rotate(-90)"><tspan x="0" y="4.3">consta de</tspan></text>
<text class="t" transform="translate(444 881) rotate(-90)"><tspan x="0" y="4.3">tipos</tspan></text>
<text class="t" transform="translate(370 1195) rotate(-90)"><tspan x="0" y="4.3">en</tspan></text>
<text class="t" transform="translate(500 1102) rotate(-90)"><tspan x="0" y="4.3">en</tspan></text>
<text class="t" transform="translate(680 976) rotate(-90)"><tspan x="0" y="4.3">entre</tspan></text>
<text class="t" transform="translate(775 910) rotate(-90)"><tspan x="0" y="4.3">mejora</tspan></text>
<text class="t" transform="translate(860 1011) rotate(-90)"><tspan x="0" y="4.3">alimenta</tspan></text>
<text class="t" transform="translate(596 1191) rotate(-90)"><tspan x="0" y="4.3">facilitan</tspan></text>
<text class="t" transform="translate(757 1286) rotate(-90)"><tspan x="0" y="4.3">apoya</tspan></text>
<text class="t" transform="translate(466 1432) rotate(-90)"><tspan x="0" y="4.3">tipos</tspan></text>
<text class="t" transform="translate(888 1431) rotate(-90)"><tspan x="0" y="4.3">herramientas</tspan></text>
<text class="t" transform="translate(955 915) rotate(-90)"><tspan x="0" y="4.3">permite</tspan></text>
<text class="t" transform="translate(1060 822) rotate(-90)"><tspan x="0" y="4.3">para</tspan></text>
<text class="t" transform="translate(939 1080) rotate(-90)"><tspan x="0" y="-3">con datos</tspan><tspan x="0" y="11.5">de tipo</tspan></text>
<text class="t" transform="translate(867 323) rotate(-90)"><tspan x="0" y="4.3">tipos</tspan></text>
<text class="t" transform="translate(984 182) rotate(-90)"><tspan x="0" y="4.3">tipos</tspan></text>
<text class="t" transform="translate(1078 61) rotate(-90)"><tspan x="0" y="4.3">según</tspan></text>
<text class="t" transform="translate(1083 182) rotate(-90)"><tspan x="0" y="4.3">según</tspan></text>
<text class="t" transform="translate(1078 307) rotate(-90)"><tspan x="0" y="4.3">según</tspan></text>
<text class="t" transform="translate(1002 420) rotate(-90)"><tspan x="0" y="4.3">Nacionales</tspan></text>
<text class="t" transform="translate(1017 593) rotate(-90)"><tspan x="0" y="4.3">internacionales</tspan></text>
<text class="t" transform="translate(1082 554) rotate(-90)"><tspan x="0" y="4.3">pasó a</tspan></text>
<text class="t" transform="translate(860 535) rotate(-90)"><tspan x="0" y="4.3">tipos</tspan></text>
<text class="t" transform="translate(888 687) rotate(-90)"><tspan x="0" y="4.3">consta</tspan></text>
</g>
</svg>
